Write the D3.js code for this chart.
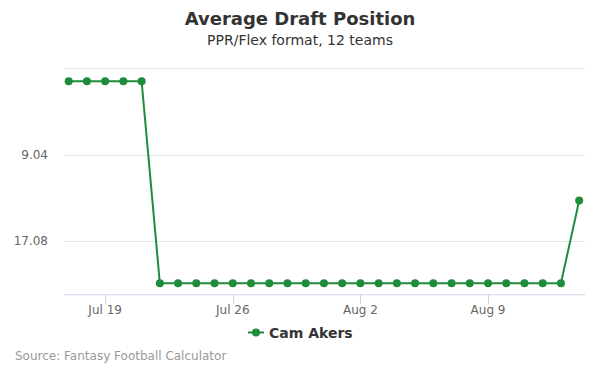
<!DOCTYPE html>
<html><head><meta charset="utf-8">
<script src="https://cdn.jsdelivr.net/npm/d3@7"></script>
<style>body{margin:0;background:#fff}svg{font-family:"DejaVu Sans",sans-serif}</style>
</head><body><svg id="c" width="600" height="375"></svg>
<script>
const dates = ["2020-07-17","2020-07-18","2020-07-19","2020-07-20","2020-07-21","2020-07-22","2020-07-23","2020-07-24","2020-07-25","2020-07-26","2020-07-27","2020-07-28","2020-07-29","2020-07-30","2020-07-31","2020-08-01","2020-08-02","2020-08-03","2020-08-04","2020-08-05","2020-08-06","2020-08-07","2020-08-08","2020-08-09","2020-08-10","2020-08-11","2020-08-12","2020-08-13","2020-08-14"];
const adp = [2.2,2.2,2.2,2.2,2.2,21.0,21.0,21.0,21.0,21.0,21.0,21.0,21.0,21.0,21.0,21.0,21.0,21.0,21.0,21.0,21.0,21.0,21.0,21.0,21.0,21.0,21.0,21.0,13.3];
const yTicks = [1, 9.04, 17.08];
const xTickLabels = ["Jul 19","Jul 26","Aug 2","Aug 9"];
const xTickDates = ["2020-07-19","2020-07-26","2020-08-02","2020-08-09"];
const seriesName = "Cam Akers";

const svg = d3.select("#c");
const parse = d3.timeParse("%Y-%m-%d");
const L = 64, R = 585, T = 68.3, B = 294.3;
const x = d3.scaleTime()
  .domain([new Date(2020,6,16,17,50), new Date(2020,7,14,7,40)])
  .range([L, R]);
const y = d3.scaleLinear().domain([1, 22.03]).range([T, B]);
const color = "#1e8c3a";

// grid
svg.append("g").selectAll("line").data(yTicks).join("line")
  .attr("x1", L).attr("x2", R)
  .attr("y1", d => Math.round(y(d)) + 0.5).attr("y2", d => Math.round(y(d)) + 0.5)
  .attr("stroke", "#e6e6e6").attr("stroke-width", 1);
svg.append("g").selectAll("text").data(yTicks.slice(1)).join("text")
  .attr("x", 48).attr("y", d => y(d) + 4)
  .attr("text-anchor", "end").attr("font-size", 12).attr("fill", "#666")
  .text(d => d.toFixed(2));

// x axis
svg.append("line").attr("x1", L).attr("x2", R).attr("y1", B + 0.5).attr("y2", B + 0.5)
  .attr("stroke", "#ccd6eb");
const xt = xTickDates.map(parse);
svg.append("g").selectAll("line").data(xt).join("line")
  .attr("x1", d => Math.round(x(d)) + 0.5).attr("x2", d => Math.round(x(d)) + 0.5)
  .attr("y1", B).attr("y2", B + 10).attr("stroke", "#ccd6eb");
svg.append("g").selectAll("text").data(xt).join("text")
  .attr("x", d => x(d)).attr("y", B + 20)
  .attr("text-anchor", "middle").attr("font-size", 12).attr("fill", "#666")
  .text((d, i) => xTickLabels[i]);

// line
const pts = dates.map((d, i) => ({ d: parse(d), v: adp[i] }));
svg.append("path").datum(pts)
  .attr("d", d3.line().x(p => x(p.d)).y(p => y(p.v)))
  .attr("fill", "none").attr("stroke", color).attr("stroke-width", 2);
svg.append("g").selectAll("circle").data(pts).join("circle")
  .attr("cx", p => x(p.d)).attr("cy", p => y(p.v)).attr("r", 4).attr("fill", color);

// titles
svg.append("text").attr("x", 300).attr("y", 25).attr("text-anchor", "middle")
  .attr("font-size", 18).attr("font-weight", "bold").attr("fill", "#333").text("Average Draft Position");
svg.append("text").attr("x", 300).attr("y", 45).attr("text-anchor", "middle")
  .attr("font-size", 14).attr("fill", "#333").text("PPR/Flex format, 12 teams");

// legend
const lg = svg.append("g");
lg.append("line").attr("x1", 248).attr("x2", 264).attr("y1", 332.5).attr("y2", 332.5)
  .attr("stroke", color).attr("stroke-width", 2);
lg.append("circle").attr("cx", 256).attr("cy", 332.5).attr("r", 4).attr("fill", color);
lg.append("text").attr("x", 269).attr("y", 337.5).attr("font-size", 14).attr("font-weight", "bold")
  .attr("fill", "#333").text(seriesName);

svg.append("text").attr("x", 15).attr("y", 360).attr("font-size", 12).attr("fill", "#999")
  .text("Source: Fantasy Football Calculator");
</script></body></html>
